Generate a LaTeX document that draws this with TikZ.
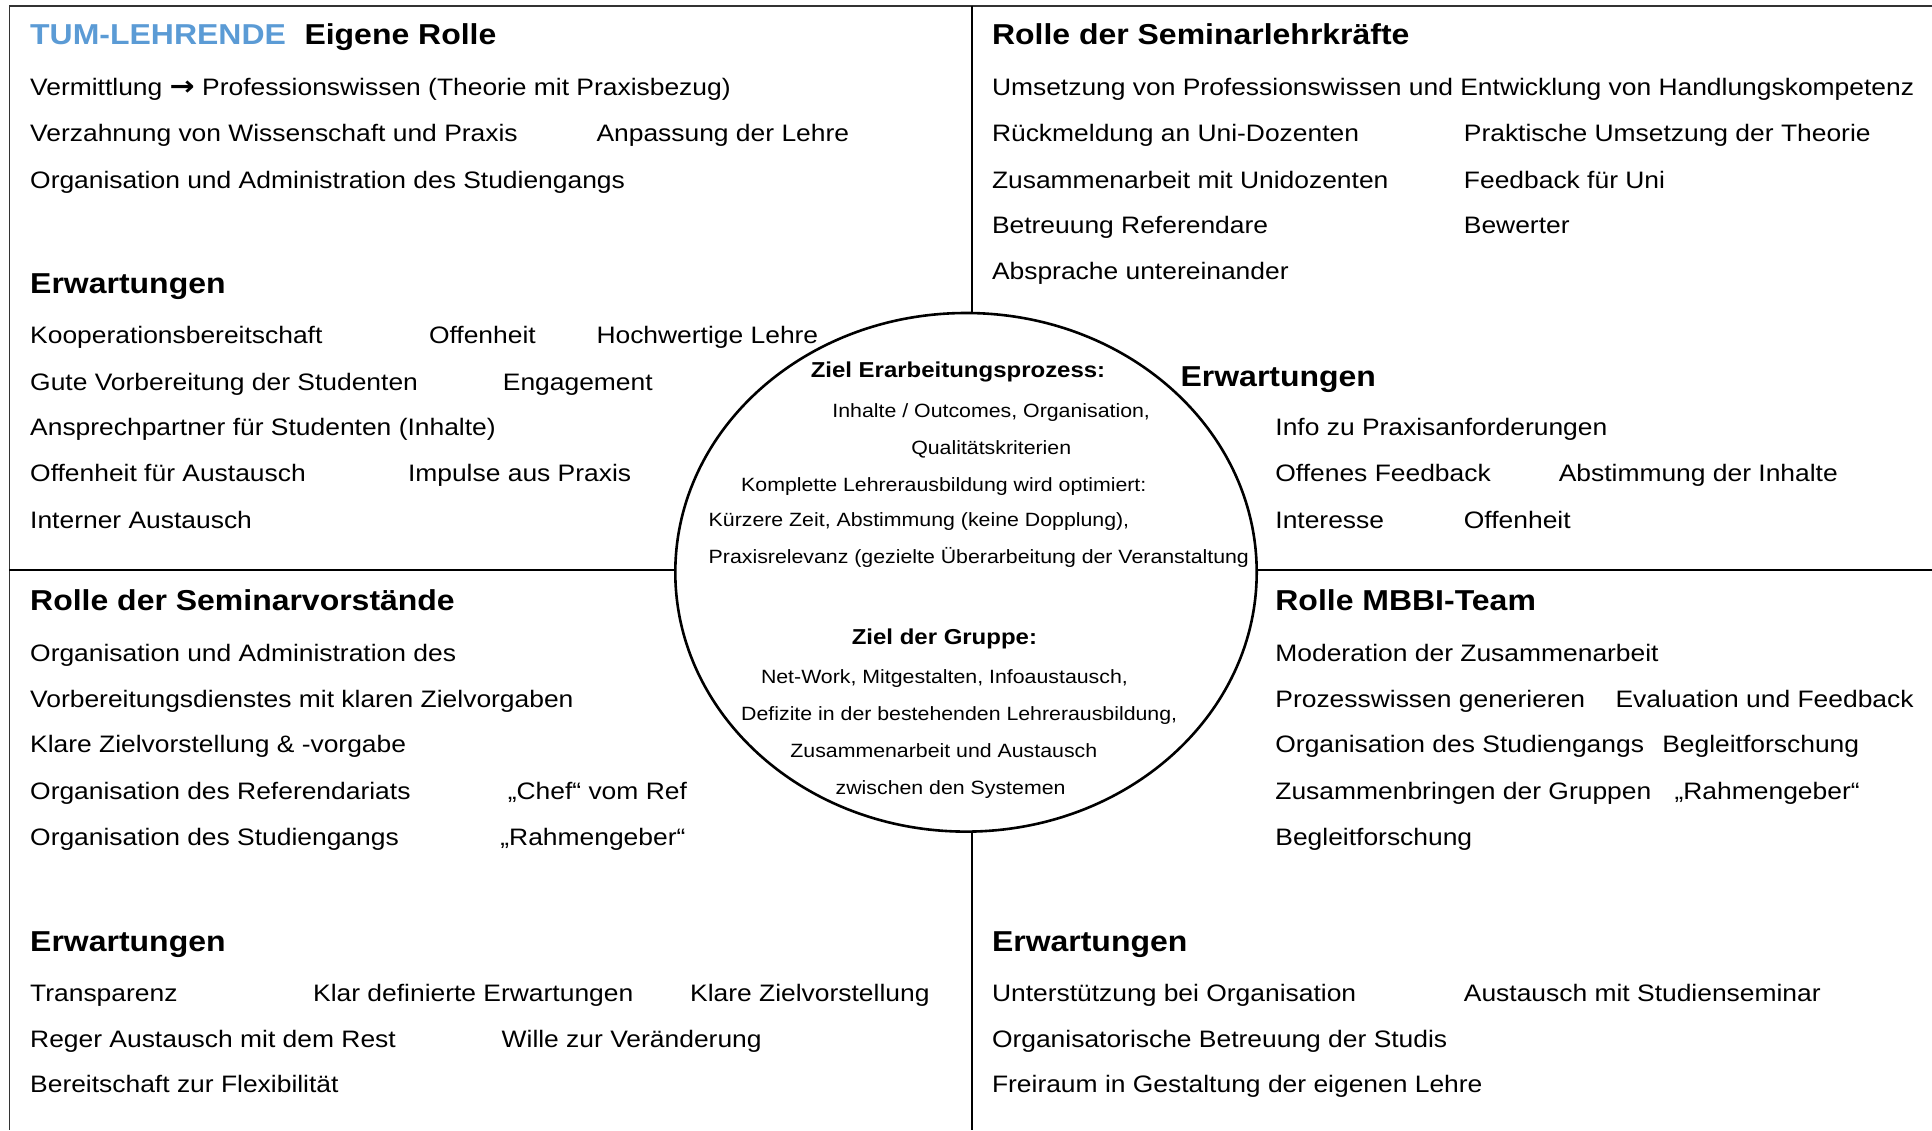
\documentclass[tikz,border=0pt]{standalone}
\usepackage{fontspec}
\setmainfont[FakeStretch=1.11]{Liberation Sans}
\newfontfamily\arrowfont[FakeStretch=1.11]{DejaVu Sans}
\usetikzlibrary{shapes.geometric}
\definecolor{tumblue}{RGB}{91,155,213}
\begin{document}
\begin{tikzpicture}[x=1pt,y=-1pt,
  txt/.style={anchor=base west, inner sep=0pt, font=\fontsize{23.8}{28}\selectfont},
  head/.style={anchor=base west, inner sep=0pt, font=\fontsize{28.8}{34}\selectfont\bfseries},
  ctxt/.style={anchor=base, inner sep=0pt, font=\fontsize{19.2}{23}\selectfont},
  cleft/.style={ctxt, anchor=base west},
  chead/.style={anchor=base, inner sep=0pt, font=\fontsize{21.6}{26}\selectfont\bfseries},
  rule/.style={line width=1.6pt, draw=black},
  goalring/.style={ellipse, draw=black, line width=2.6pt, fill=white, inner sep=0pt,
    minimum width=581.4pt, minimum height=518.6pt},
]
\useasboundingbox (0,0) rectangle (1932,1130);

% frame and quadrant rules
\coordinate (tl) at (9.3,5.7);
\coordinate (tr) at (1932,5.7);
\coordinate (bl) at (9.3,1130);
\draw[rule, draw=black!80] (tr) -- (tl) -- (bl);
\coordinate (vt) at (972,5.7);
\coordinate (vb) at (972,1130);
\draw[rule] (vt) -- (vb);
\coordinate (hl) at (9.3,570);
\coordinate (hr) at (1932,570);
\draw[rule] (hl) -- (hr);

% central goal ellipse
\node[goalring] (goal) at (966,572.3) {};

% --- top left: TUM-Lehrende
\node[head, text=tumblue] (tumhead) at (30,44.8) {TUM-LEHRENDE};
\node[head] (tumrole) at (304.3,44.8) {Eigene Rolle};
\node[txt] (a1) at (30,95.9) {Vermittlung {\arrowfont\fontsize{27}{28}\selectfont\bfseries →} Professionswissen (Theorie mit Praxisbezug)};
\node[txt] (a2) at (30,141.5) {Verzahnung von Wissenschaft und Praxis};
\node[txt] (a3) at (596.3,141.5) {Anpassung der Lehre};
\node[txt] (a4) at (30,188.3) {Organisation und Administration des Studiengangs};
\node[head] (ahead) at (30,293.7) {Erwartungen};
\node[txt] (a5) at (30,343.5) {Kooperationsbereitschaft};
\node[txt] (a6) at (428.8,343.5) {Offenheit};
\node[txt] (a7) at (596.3,343.5) {Hochwertige Lehre};
\node[txt] (a8) at (30,390.4) {Gute Vorbereitung der Studenten};
\node[txt] (a9) at (502.7,390.4) {Engagement};
\node[txt] (a10) at (30,435.9) {Ansprechpartner für Studenten (Inhalte)};
\node[txt] (a11) at (30,481.5) {Offenheit für Austausch};
\node[txt] (a12) at (407.8,481.5) {Impulse aus Praxis};
\node[txt] (a13) at (30,528.4) {Interner Austausch};

% --- top right: Seminarlehrkräfte
\node[head] (bhead) at (991.8,44.8) {Rolle der Seminarlehrkräfte};
\node[txt] (b1) at (991.8,95.9) {Umsetzung von Professionswissen und Entwicklung von Handlungskompetenz};
\node[txt] (b2) at (991.8,141.5) {Rückmeldung an Uni-Dozenten};
\node[txt] (b3) at (1463.7,141.5) {Praktische Umsetzung der Theorie};
\node[txt] (b4) at (991.8,188.3) {Zusammenarbeit mit Unidozenten};
\node[txt] (b5) at (1463.7,188.3) {Feedback für Uni};
\node[txt] (b6) at (991.8,233.9) {Betreuung Referendare};
\node[txt] (b7) at (1463.7,233.9) {Bewerter};
\node[txt] (b8) at (991.8,279.5) {Absprache untereinander};
\node[head] (bexp) at (1180.4,386.1) {Erwartungen};
\node[txt] (b9) at (1275.2,435.9) {Info zu Praxisanforderungen};
\node[txt] (b10) at (1275.2,481.5) {Offenes Feedback};
\node[txt] (b11) at (1558.6,481.5) {Abstimmung der Inhalte};
\node[txt] (b12) at (1275.2,528.4) {Interesse};
\node[txt] (b13) at (1463.7,528.4) {Offenheit};

% --- bottom left: Seminarvorstände
\node[head] (chead) at (30,610.3) {Rolle der Seminarvorstände};
\node[txt] (c1) at (30,661.4) {Organisation und Administration des};
\node[txt] (c2) at (30,707) {Vorbereitungsdienstes mit klaren Zielvorgaben};
\node[txt] (c3) at (30,752.6) {Klare Zielvorstellung \& -vorgabe};
\node[txt] (c4) at (30,799.4) {Organisation des Referendariats};
\node[txt] (c5) at (507.6,799.4) {„Chef“ vom Ref};
\node[txt] (c6) at (30,845) {Organisation des Studiengangs};
\node[txt] (c7) at (500.2,845) {„Rahmengeber“};
\node[head] (cexp) at (30,951.6) {Erwartungen};
\node[txt] (c8) at (30,1001.5) {Transparenz};
\node[txt] (c9) at (313,1001.5) {Klar definierte Erwartungen};
\node[txt] (c10) at (690,1001.5) {Klare Zielvorstellung};
\node[txt] (c11) at (30,1047.1) {Reger Austausch mit dem Rest};
\node[txt] (c12) at (501.5,1047.1) {Wille zur Veränderung};
\node[txt] (c13) at (30,1092.6) {Bereitschaft zur Flexibilität};

% --- bottom right: MBBI-Team
\node[head] (dhead) at (1275.2,610.3) {Rolle MBBI-Team};
\node[txt] (d1) at (1275.2,661.4) {Moderation der Zusammenarbeit};
\node[txt] (d2) at (1275.2,707) {Prozesswissen generieren};
\node[txt] (d3) at (1615.3,707) {Evaluation und Feedback};
\node[txt] (d4) at (1275.2,752.6) {Organisation des Studiengangs};
\node[txt] (d5) at (1662.1,752.6) {Begleitforschung};
\node[txt] (d6) at (1275.2,799.4) {Zusammenbringen der Gruppen};
\node[txt] (d7) at (1674.4,799.4) {„Rahmengeber“};
\node[txt] (d8) at (1275.2,845) {Begleitforschung};
\node[head] (dexp) at (991.8,951.6) {Erwartungen};
\node[txt] (d9) at (991.8,1001.5) {Unterstützung bei Organisation};
\node[txt] (d10) at (1463.7,1001.5) {Austausch mit Studienseminar};
\node[txt] (d11) at (991.8,1047.1) {Organisatorische Betreuung der Studis};
\node[txt] (d12) at (991.8,1092.6) {Freiraum in Gestaltung der eigenen Lehre};

% --- texts inside the goal ellipse
\node[chead] (g1) at (958,377.3) {Ziel Erarbeitungsprozess:};
\node[ctxt] (g2) at (991.2,417.2) {Inhalte / Outcomes, Organisation,};
\node[ctxt] (g3) at (991.2,454.2) {Qualitätskriterien};
\node[ctxt] (g4) at (943.8,491.1) {Komplette Lehrerausbildung wird optimiert:};
\node[cleft] (g5) at (708.5,526.9) {Kürzere Zeit, Abstimmung (keine Dopplung),};
\node[cleft] (g6) at (708.5,563.8) {Praxisrelevanz (gezielte Überarbeitung der Veranstaltung};
\node[chead] (g7) at (944.4,644.7) {Ziel der Gruppe:};
\node[ctxt] (g8) at (944.4,683.3) {Net-Work, Mitgestalten, Infoaustausch,};
\node[ctxt] (g9) at (959.2,720.3) {Defizite in der bestehenden Lehrerausbildung,};
\node[ctxt] (g10) at (943.8,757.3) {Zusammenarbeit und Austausch};
\node[ctxt] (g11) at (950.6,794.2) {zwischen den Systemen};
\end{tikzpicture}
\end{document}
